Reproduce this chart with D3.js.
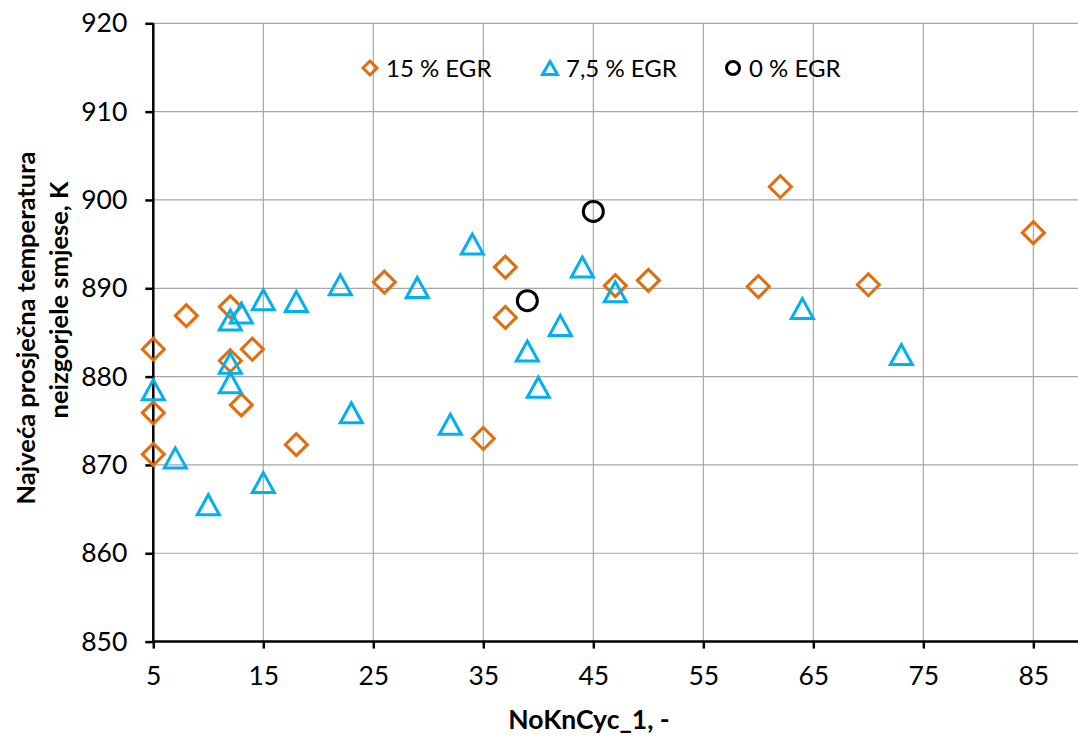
<!DOCTYPE html>
<html><head><meta charset="utf-8">
<script src="https://cdn.jsdelivr.net/npm/d3@7"></script>
<style>
body{margin:0;background:#fff;}
text{font-family:Lato,"Open Sans",sans-serif;fill:#000;}
</style></head>
<body>
<svg id="chart" width="1078" height="737"></svg>
<script>
// ---- data ----
const seriesNames = ["15 % EGR", "7,5 % EGR", "0 % EGR"];
const egr15X = [5, 5, 5, 8, 12, 12, 13, 14, 18, 26, 35, 37, 37, 47, 50, 60, 62, 70, 85];
const egr15Y = [883.1, 875.9, 871.2, 886.9, 887.9, 881.8, 876.8, 883.1, 872.3, 890.7, 873.0, 892.4, 886.7, 890.3, 890.9, 890.2, 901.5, 890.4, 896.3];
const egr75X = [5, 7, 10, 12, 12, 12, 13, 15, 15, 18, 22, 23, 29, 32, 34, 39, 40, 42, 44, 47, 64, 73];
const egr75Y = [878.5, 870.8, 865.5, 886.4, 881.5, 879.3, 887.2, 888.7, 868.0, 888.5, 890.4, 875.9, 890.1, 874.6, 895.0, 882.9, 878.8, 885.8, 892.4, 889.6, 887.7, 882.5];
const egr0X = [39, 45];
const egr0Y = [888.6, 898.7];
const xTicks = [5, 15, 25, 35, 45, 55, 65, 75, 85];
const yTicks = [850, 860, 870, 880, 890, 900, 910, 920];
const xTitle = "NoKnCyc_1, -";
const yTitleLines = ["Najveća prosječna temperatura", "neizgorjele smjese, K"];

const svg = d3.select("#chart");
const L = 153.3, R = 1078, T = 23.3, B = 641.6;
const x = d3.scaleLinear().domain([5, 89.06]).range([L, R]);
const y = d3.scaleLinear().domain([850, 920]).range([B, T]);

// grid
const grid = svg.append("g");
grid.selectAll("line.v").data(xTicks.slice(1)).join("line")
  .attr("x1", d => x(d)).attr("x2", d => x(d)).attr("y1", T).attr("y2", B)
  .attr("stroke", "#a6a6a6").attr("stroke-width", 1.2);
grid.selectAll("line.h").data(yTicks.slice(1)).join("line")
  .attr("x1", L).attr("x2", R).attr("y1", d => y(d)).attr("y2", d => y(d))
  .attr("stroke", "#a6a6a6").attr("stroke-width", 1.2);

// axes
const xAxis = svg.append("g").attr("transform", `translate(0,${B})`)
  .call(d3.axisBottom(x).tickValues(xTicks).tickSize(7).tickPadding(18).tickFormat(d3.format("d")));
const yAxis = svg.append("g").attr("transform", `translate(${L},0)`)
  .call(d3.axisLeft(y).tickValues(yTicks).tickSize(8).tickPadding(18).tickFormat(d3.format("d")));
[xAxis, yAxis].forEach(a => {
  a.select(".domain").attr("stroke", "#000").attr("stroke-width", 2.5);
  a.selectAll(".tick line").attr("stroke", "#000").attr("stroke-width", 2.5);
  a.selectAll(".tick text").attr("font-size", 26.5).attr("font-family", "Lato").attr("fill", "#000");
});
xAxis.select(".domain").attr("d", `M${L},0H${R}`);
yAxis.select(".domain").attr("d", `M0,${B}V${T}`);

// marker path builders
const diamond = (r) => `M0,${-r}L${r},0L0,${r}L${-r},0Z`;
const triangle = (w, h) => `M0,${-h/2}L${w/2},${h/2}L${-w/2},${h/2}Z`;

const orange = "#e46c0a", blue = "#00b0f0";
const pts = svg.append("g");
pts.selectAll("path.d").data(d3.zip(egr15X, egr15Y)).join("path")
  .attr("d", diamond(11)).attr("transform", d => `translate(${x(d[0])},${y(d[1])})`)
  .attr("fill", "none").attr("stroke", orange).attr("stroke-width", 3);
pts.selectAll("path.t").data(d3.zip(egr75X, egr75Y)).join("path")
  .attr("d", triangle(22, 20)).attr("transform", d => `translate(${x(d[0])},${y(d[1])})`)
  .attr("fill", "none").attr("stroke", blue).attr("stroke-width", 3);
pts.selectAll("circle").data(d3.zip(egr0X, egr0Y)).join("circle")
  .attr("cx", d => x(d[0])).attr("cy", d => y(d[1])).attr("r", 10)
  .attr("fill", "none").attr("stroke", "#000").attr("stroke-width", 3);

// legend
const leg = svg.append("g");
const legX = [370, 550, 733];
const legY = 68;
leg.append("path").attr("d", diamond(7)).attr("transform", `translate(${legX[0]},${legY})`)
  .attr("fill", "none").attr("stroke", orange).attr("stroke-width", 3);
leg.append("path").attr("d", triangle(15, 13)).attr("transform", `translate(${legX[1]},${legY})`)
  .attr("fill", "none").attr("stroke", blue).attr("stroke-width", 3);
leg.append("circle").attr("cx", legX[2]).attr("cy", legY).attr("r", 6.5)
  .attr("fill", "none").attr("stroke", "#000").attr("stroke-width", 3);
leg.selectAll("text").data(seriesNames).join("text")
  .attr("x", (d, i) => legX[i] + 16).attr("y", legY + 8.5)
  .attr("font-size", 24).text(d => d);

// titles
svg.append("text").attr("x", 589).attr("y", 729).attr("text-anchor", "middle")
  .attr("font-size", 26.5).attr("font-weight", "bold").text(xTitle);
const yt = svg.append("text").attr("transform", "rotate(-90)")
  .attr("text-anchor", "middle").attr("font-size", 25.5).attr("font-weight", "bold");
const yCenters = [328, 300], yBase = [35, 68];
yt.selectAll("tspan").data(yTitleLines).join("tspan")
  .attr("x", (d, i) => -yCenters[i]).attr("y", (d, i) => yBase[i]).text(d => d);
</script>
</body></html>
